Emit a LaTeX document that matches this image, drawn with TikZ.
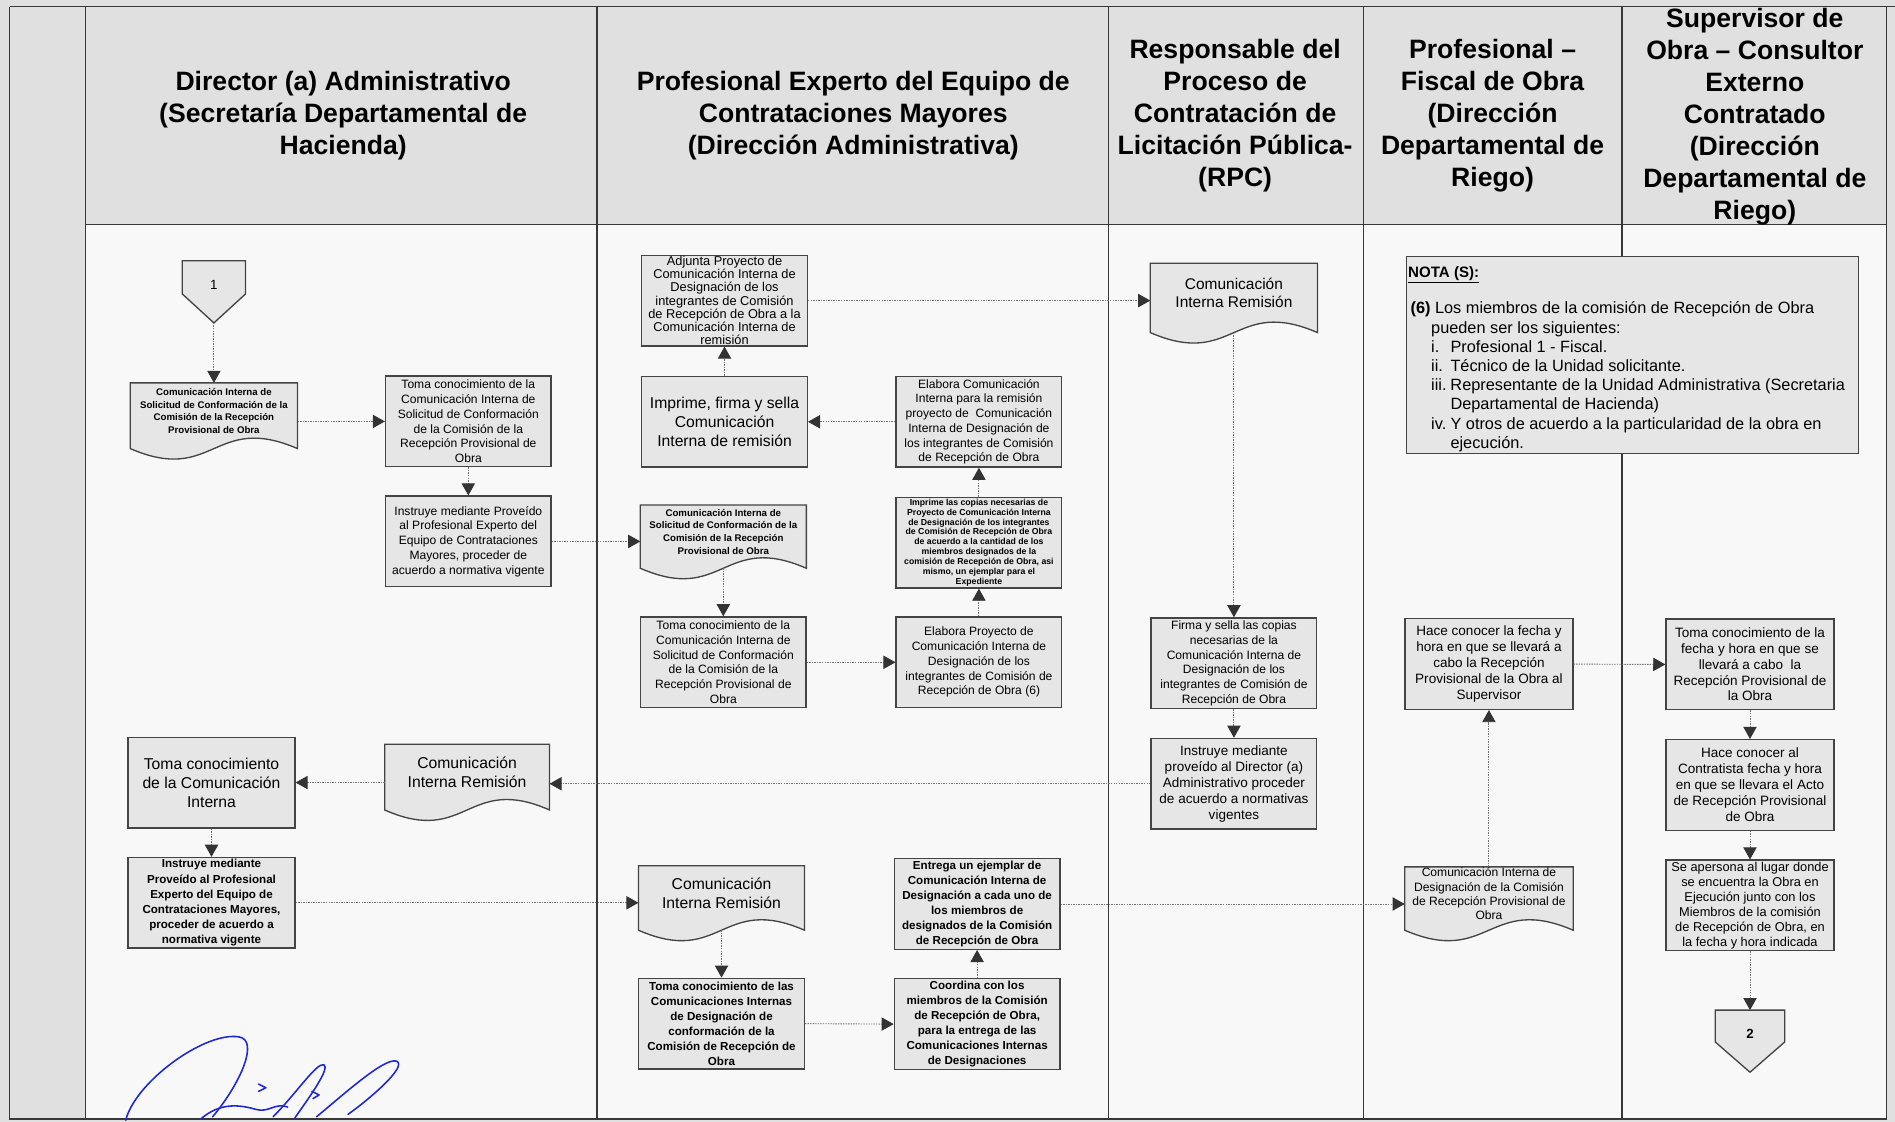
\documentclass[tikz,border=0pt]{standalone}
\usepackage{fontspec}
\setmainfont{Liberation Sans}
\usetikzlibrary{arrows.meta}
\pgfdeclarelayer{hinten}
\pgfsetlayers{hinten,main}
\definecolor{kopfgrau}{RGB}{224,224,224}
\definecolor{papier}{RGB}{248,248,248}
\definecolor{kastengrau}{RGB}{230,230,230}
\definecolor{rand}{RGB}{68,68,68}
\definecolor{tinte}{RGB}{30,40,215}
% Dokumentsymbol mit Wellenunterkante
\newcommand{\dokform}[1]{%
  \path[dokrand] (#1.north west) -- (#1.north east) -- ([yshift=-8pt]#1.south east)
    .. controls ([yshift=22pt]#1.south) and ([yshift=-38pt]#1.south) .. ([yshift=-8pt]#1.south west) -- cycle;}
% Seitenverbinder (Fuenfeck, Spitze nach unten)
\newcommand{\seitenform}[2]{%
  \path[dokrand] (#1.north west) -- (#1.north east) -- ([yshift=#2]#1.south east)
    -- (#1.south) -- ([yshift=#2]#1.south west) -- cycle;}
\tikzset{
  spalte/.style={draw=black!78, line width=1.1pt},
  kopf/.style={align=center, inner sep=0pt, font=\bfseries\fontsize{22}{26.5}\selectfont},
  kasten/.style={rectangle, draw=rand, fill=kastengrau, line width=1.1pt,
    minimum width=137pt, minimum height=75pt, inner sep=0pt, align=center},
  dok/.style={rectangle, minimum width=137pt, inner sep=0pt, align=center},
  dokrand/.style={draw=rand, fill=kastengrau, line width=1.1pt},
  verbinder/.style={rectangle, minimum width=52pt, minimum height=51pt, inner sep=0pt,
    text height=8pt, text depth=12pt, font=\fontsize{11}{13}\selectfont},
  fluss/.style={draw=black!55, line width=0.75pt, dash pattern=on 1.2pt off 0.9pt,
    -{Triangle[length=10pt,width=11pt,color=black!80]}},
  unterschrift/.style={draw=tinte, line width=1.3pt, line cap=round, line join=round},
  fz/.style={font=\fontsize{10}{12.2}\selectfont},
  fm/.style={font=\fontsize{11.2}{13.1}\selectfont},
  fg/.style={font=\fontsize{13}{15.8}\selectfont},
  fk/.style={font=\bfseries\fontsize{8}{10.6}\selectfont},
  fkk/.style={font=\bfseries\fontsize{7.2}{8.2}\selectfont},
  ff/.style={font=\bfseries\fontsize{9.6}{12.5}\selectfont},
}

\begin{document}
\begin{tikzpicture}[x=1pt,y=-1pt]
\useasboundingbox (0,0) rectangle (1568,928);
\begin{pgfonlayer}{hinten}
% Papier, Kopfzeile und linker Randstreifen
\fill[kopfgrau] (0,0) rectangle (1568,928);
\fill[papier] (71,185.5) rectangle (1561,926);
% Rahmen und Spaltenlinien
\draw[spalte] (8,5.5) -- (1568,5.5);
\draw[spalte] (8,5.5) -- (8,926) -- (1561,926);
\draw[spalte] (71,185.5) -- (1561,185.5);
\foreach \x in {71,494,917,1128,1342,1561} \draw[spalte] (\x,5.5) -- (\x,926);
\end{pgfonlayer}
% Spaltenkoepfe
\node (k1) at (284,95.5) [kopf] {Director (a) Administrativo\\(Secretaría Departamental de\\Hacienda)};
\node (k2) at (706,95.5) [kopf] {Profesional Experto del Equipo de\\Contrataciones Mayores\\(Dirección Administrativa)};
\node (k3) at (1022,95.5) [kopf] {Responsable del\\Proceso de\\Contratación de\\Licitación Pública-\\(RPC)};
\node (k4) at (1235,95.5) [kopf] {Profesional –\\Fiscal de Obra\\(Dirección\\Departamental de\\Riego)};
\node (k5) at (1452,96.5) [kopf] {Supervisor de\\Obra – Consultor\\Externo\\Contratado\\(Dirección\\Departamental de\\Riego)};
% Spalte 1: Director (a) Administrativo
\node (c1) at (177,241.5) [verbinder] {1};
\node (d2) at (177,340) [dok,fk,minimum width=138pt,minimum height=46pt] {Comunicación Interna de\\Solicitud de Conformación de la\\Comisión de la Recepción\\Provisional de Obra};
\node (p3) at (387.5,348.7) [kasten,fz] {Toma conocimiento de la\\Comunicación Interna de\\Solicitud de Conformación\\de la Comisión de la\\Recepción Provisional de\\Obra};
\node (p4) at (387.5,448) [kasten,fz] {Instruye mediante Proveído\\al Profesional Experto del\\Equipo de Contrataciones\\Mayores, proceder de\\acuerdo a normativa vigente};
\node (p5) at (175,647.5) [kasten,fg,minimum width=138pt] {Toma conocimiento\\de la Comunicación\\Interna};
\node (d6) at (386.5,639) [dok,fg,minimum width=136pt,minimum height=46pt] {Comunicación\\Interna Remisión};
\node (p7) at (175,747) [kasten,ff,minimum width=138pt] {Instruye mediante\\Proveído al Profesional\\Experto del Equipo de\\Contrataciones Mayores,\\proceder de acuerdo a\\normativa vigente};
% Spalte 2: Profesional Experto
\node (p8) at (599.5,248.7) [kasten,font=\fontsize{10.6}{10.9}\selectfont] {Adjunta Proyecto de\\Comunicación Interna de\\Designación de los\\integrantes de Comisión\\de Recepción de Obra a la\\Comunicación Interna de\\remisión};
\node (p9) at (599.5,349) [kasten,fg] {Imprime, firma y sella\\Comunicación\\Interna de remisión};
\node (p10) at (810,349) [kasten,fz] {Elabora Comunicación\\Interna para la remisión\\proyecto de~ Comunicación\\Interna de Designación de\\los integrantes de Comisión\\de Recepción de Obra};
\node (d11) at (598.5,440) [dok,fk,minimum height=44pt] {Comunicación Interna de\\Solicitud de Conformación de la\\Comisión de la Recepción\\Provisional de Obra};
\node (p12) at (810,449) [kasten,fkk] {Imprime las copias necesarias de\\Proyecto de Comunicación Interna\\de Designación de los integrantes\\de Comisión de Recepción de Obra\\de acuerdo a la cantidad de los\\miembros designados de la\\comisión de Recepción de Obra, asi\\mismo, un ejemplar para el\\Expediente};
\node (p13) at (598.5,548) [kasten,fz] {Toma conocimiento de la\\Comunicación Interna de\\Solicitud de Conformación\\de la Comisión de la\\Recepción Provisional de\\Obra};
\node (p14) at (810,548) [kasten,fz] {Elabora Proyecto de\\Comunicación Interna de\\Designación de los\\integrantes de Comisión de\\Recepción de Obra (6)};
\node (d15) at (597,739) [dok,fg,minimum height=45pt] {Comunicación\\Interna Remisión};
\node (p16) at (597,847) [kasten,ff] {Toma conocimiento de las\\Comunicaciones Internas\\de Designación de\\conformación de la\\Comisión de Recepción de\\Obra};
\node (p17) at (808.5,847.4) [kasten,ff] {Coordina con los\\miembros de la Comisión\\de Recepción de Obra,\\para la entrega de las\\Comunicaciones Internas\\de Designaciones};
\node (p18) at (808.5,748) [kasten,ff] {Entrega un ejemplar de\\Comunicación Interna de\\Designación a cada uno de\\los miembros de\\designados de la Comisión\\de Recepción de Obra};
% Spalte 3: Responsable (RPC)
\node (d19) at (1021,242.5) [dok,font=\fontsize{12.8}{15.2}\selectfont,minimum width=138pt,minimum height=49pt] {Comunicación\\Interna Remisión};
\node (p20) at (1021,548.8) [kasten,fz] {Firma y sella las copias\\necesarias de la\\Comunicación Interna de\\Designación de los\\integrantes de Comisión de\\Recepción de Obra};
\node (p21) at (1021,648.5) [kasten,font=\fontsize{11.2}{13.2}\selectfont] {Instruye mediante\\proveído al Director (a)\\Administrativo proceder\\de acuerdo a normativas\\vigentes};
% Spalte 4: Fiscal de Obra
\node (p22) at (1232,549.5) [kasten,fm,minimum width=139pt] {Hace conocer la fecha y\\hora en que se llevará a\\cabo la Recepción\\Provisional de la Obra al\\Supervisor};
\node (d23) at (1232,739.5) [dok,font=\fontsize{10}{11.7}\selectfont,minimum width=139pt,minimum height=44pt] {Comunicación Interna de\\Designación de la Comisión\\de Recepción Provisional de\\Obra};
% Notiz
\node (nota) at (1351,293.5) [kasten,minimum width=374pt,minimum height=163pt] {};
\node (notakopf) at (1165,227) [anchor=west,inner sep=0pt,font=\bfseries\fontsize{12.5}{15}\selectfont] {\underline{NOTA (S):}};
\node (notatext) at (1167,249.5) [anchor=north west,align=left,inner sep=0pt,font=\fontsize{13.5}{15.9}\selectfont]
  {\textbf{(6)} Los miembros de la comisión de Recepción de Obra\\
   \hspace*{17pt}pueden ser los siguientes:\\
   \hspace*{17pt}\makebox[16pt][l]{i.}Profesional 1 - Fiscal.\\
   \hspace*{17pt}\makebox[16pt][l]{ii.}Técnico de la Unidad solicitante.\\
   \hspace*{17pt}\makebox[16pt][l]{iii.}Representante de la Unidad Administrativa (Secretaria\\
   \hspace*{33pt}Departamental de Hacienda)\\
   \hspace*{17pt}\makebox[16pt][l]{iv.}Y otros de acuerdo a la particularidad de la obra en\\
   \hspace*{33pt}ejecución.};
% Spalte 5: Supervisor de Obra
\node (p25) at (1448,549.8) [kasten,fm,minimum width=139pt] {Toma conocimiento de la\\fecha y hora en que se\\llevará a cabo~ la\\Recepción Provisional de\\la Obra};
\node (p26) at (1448,649.5) [kasten,font=\fontsize{11.2}{13.2}\selectfont,minimum width=139pt] {Hace conocer al\\Contratista fecha y hora\\en que se llevara el Acto\\de Recepción Provisional\\de Obra};
\node (p27) at (1448,749.2) [kasten,font=\fontsize{10.6}{12.4}\selectfont,minimum width=139pt] {Se apersona al lugar donde\\se encuentra la Obra en\\Ejecución junto con los\\Miembros de la comisión\\de Recepción de Obra, en\\la fecha y hora indicada};
\node (c2) at (1448,861.5) [verbinder,minimum width=57pt,font=\bfseries\fontsize{11}{13}\selectfont] {2};
% Umrisse der Dokumente und Verbinder
\begin{pgfonlayer}{hinten}
\foreach \d in {d2,d6,d11,d15,d19,d23} \dokform{\d};
\seitenform{c1}{24pt}
\seitenform{c2}{25pt}
\end{pgfonlayer}
% Verbindungen
\draw[fluss] (c1.south) -- (d2.north);
\draw[fluss] (d2.east |- p3.west) -- (p3.west);
\draw[fluss] (p3.south) -- (p4.north);
\draw[fluss] (p4.east) -- (p4.east -| d11.west);
\draw[fluss] ([yshift=-8pt]d11.south) -- (p13.north);
\draw[fluss] (p13.east) -- (p14.west);
\draw[fluss] (p14.north) -- (p12.south);
\draw[fluss] (p12.north) -- (p10.south);
\draw[fluss] (p10.west) -- (p9.east);
\draw[fluss] (p9.north) -- (p8.south);
\draw[fluss] (p8.east) -- (p8.east -| d19.west);
\draw[fluss] ([yshift=-8pt]d19.south) -- (p20.north);
\draw[fluss] (p20.south) -- (p21.north);
\draw[fluss] (p21.west) -- (p21.west -| d6.east);
\draw[fluss] (d6.west |- p5.east) -- (p5.east);
\draw[fluss] (p5.south) -- (p7.north);
\draw[fluss] (p7.east) -- (p7.east -| d15.west);
\draw[fluss] ([yshift=-8pt]d15.south) -- (p16.north);
\draw[fluss] (p16.east) -- (p17.west);
\draw[fluss] (p17.north) -- (p18.south);
\draw[fluss] (p18.east) -- (p18.east -| d23.west);
\draw[fluss] (d23.north) -- (p22.south);
\draw[fluss] (p22.east) -- (p25.west);
\draw[fluss] (p25.south) -- (p26.north);
\draw[fluss] (p26.south) -- (p27.north);
\draw[fluss] (p27.south) -- (c2.north);
% Unterschrift
\draw[unterschrift] (104,927) .. controls (112,895) and (170,853) .. (198,858) .. controls (214,861) and (200,895) .. (176,924);
\draw[unterschrift] (166,926) .. controls (182,912) and (198,914) .. (212,918) .. controls (222,921) and (228,912) .. (238,916);
\draw[unterschrift] (226,924) .. controls (245,905) and (262,879) .. (268,881) .. controls (273,884) and (258,905) .. (244,925);
\draw[unterschrift] (262,924) .. controls (285,905) and (318,875) .. (328,878) .. controls (338,882) and (305,910) .. (288,922);
\draw[unterschrift] (214,897) -- (220,900) -- (214,903);
\draw[unterschrift] (258,903) -- (264,906) -- (259,909);
\end{tikzpicture}
\end{document}
